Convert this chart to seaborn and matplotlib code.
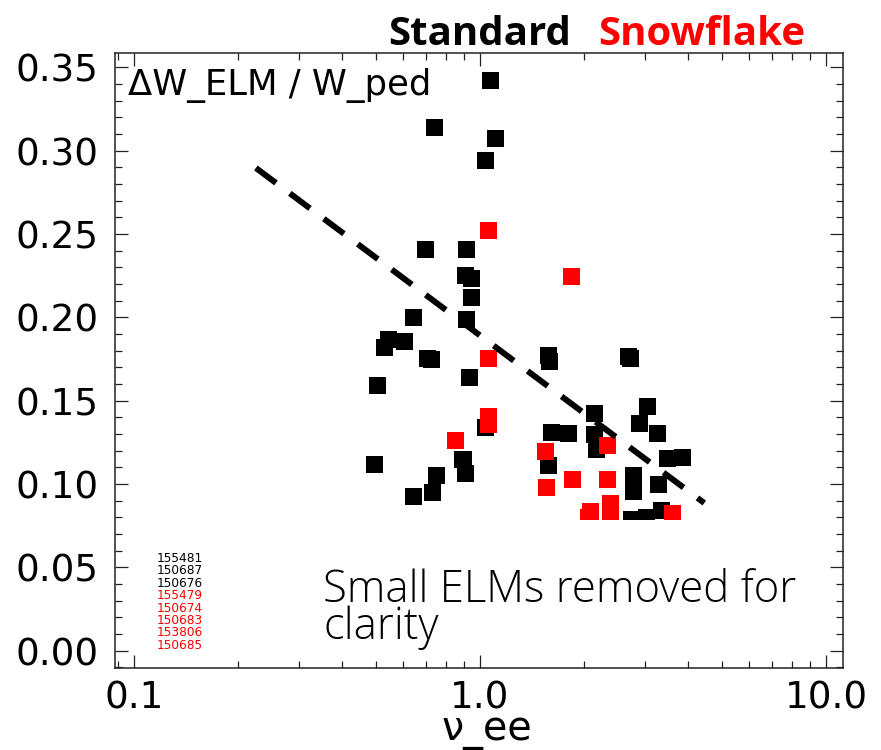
import numpy as np
import pandas as pd
import seaborn as sns
import matplotlib
matplotlib.use("Agg")
import matplotlib.pyplot as plt
from matplotlib.patches import Rectangle
from matplotlib.ticker import FixedLocator, MultipleLocator, NullFormatter, LogLocator

# ---------------- data ----------------
std_x = [1.069, 0.737, 1.105, 1.034, 0.694, 0.917, 0.905, 0.942, 0.942, 0.641,
         0.917, 0.543, 0.529, 0.604, 0.705, 0.722, 0.930, 0.505, 1.034, 0.495,
         0.893, 0.905, 0.747, 0.727, 0.641, 1.575, 1.585, 2.690, 2.722, 2.145,
         3.049, 2.891, 3.258, 1.613, 1.805, 2.145, 2.174, 1.580, 2.778, 2.778,
         3.481, 3.846, 3.281, 3.346, 3.029, 2.742]
std_y = [0.3418, 0.3136, 0.3070, 0.2938, 0.2409, 0.2409, 0.2253, 0.2235, 0.2121, 0.2001,
         0.1989, 0.1869, 0.1821, 0.1857, 0.1755, 0.1749, 0.1641, 0.1593, 0.1341, 0.1119,
         0.1149, 0.1065, 0.1053, 0.0951, 0.0927, 0.1770, 0.1737, 0.1767, 0.1752, 0.1425,
         0.1467, 0.1365, 0.1305, 0.1311, 0.1305, 0.1299, 0.1209, 0.1113, 0.1053, 0.0957,
         0.1155, 0.1161, 0.0999, 0.0843, 0.0801, 0.0789]

snow_x = [1.061, 1.841, 1.055, 1.055, 1.055, 0.847, 2.338, 1.550, 1.560, 1.854,
          2.338, 2.385, 2.385, 2.088, 2.061, 3.600]
snow_y = [0.2523, 0.2247, 0.1755, 0.1407, 0.1359, 0.1263, 0.1233, 0.1197, 0.0981, 0.1029,
          0.1029, 0.0885, 0.0831, 0.0837, 0.0801, 0.0825]

fit_x = [0.225, 4.45]
fit_y = [0.2896, 0.0885]

std_shots = ["155481", "150687", "150676"]
snow_shots = ["155479", "150674", "150683", "153806", "150685"]

x_ticks = [0.1, 1.0, 10.0]
x_ticklabels = ["0.1", "1.0", "10.0"]
y_ticks = [0.00, 0.05, 0.10, 0.15, 0.20, 0.25, 0.30, 0.35]
y_ticklabels = ["0.00", "0.05", "0.10", "0.15", "0.20", "0.25", "0.30", "0.35"]

clip_floor = 0.0783  # small ELMs removed below this level

# ---------------- figure ----------------
sns.set_style("ticks")
plt.rcParams['font.family'] = ['DejaVu Sans']
plt.rcParams['axes.linewidth'] = 1.1
for k in ("text.color", "axes.labelcolor", "xtick.color", "ytick.color",
          "xtick.labelcolor", "ytick.labelcolor", "axes.edgecolor"):
    plt.rcParams[k] = "black"

W, H = 881, 750
fig = plt.figure(figsize=(W / 100, H / 100), dpi=100)
ax = fig.add_axes([115 / W, 1 - 668 / H, (843 - 115) / W, (668 - 53) / H])

df = pd.DataFrame({
    "nu": std_x + snow_x,
    "dW": std_y + snow_y,
    "grp": ["Standard"] * len(std_x) + ["Snowflake"] * len(snow_x),
})
sns.scatterplot(data=df, x="nu", y="dW", hue="grp",
                palette={"Standard": "#000000", "Snowflake": "#ff0000"},
                marker="s", s=150, linewidth=0, legend=False, ax=ax, zorder=2)

sns.lineplot(x=fit_x, y=fit_y, color="black", linewidth=4.3,
             linestyle=(0, (4.2, 2.9)), ax=ax, zorder=3, estimator=None, sort=False)

ax.set_xscale("log")
ax.set_xlim(0.0881, 11.2)
ax.set_ylim(-0.0105, 0.3586)

clip = Rectangle((0.001, clip_floor), 1000, 1.0, transform=ax.transData)
for coll in ax.collections:
    coll.set_clip_path(clip)

ax.xaxis.set_major_locator(FixedLocator(x_ticks))
ax.set_xticklabels(x_ticklabels)
ax.xaxis.set_minor_locator(LogLocator(base=10, subs=np.arange(2, 10)))
ax.xaxis.set_minor_formatter(NullFormatter())
ax.yaxis.set_major_locator(FixedLocator(y_ticks))
ax.set_yticklabels(y_ticklabels)
ax.yaxis.set_minor_locator(MultipleLocator(0.01))

ax.tick_params(which="major", direction="in", length=9.4, width=0.9,
               top=True, right=True, labelsize=26.8, pad=12, color="#222222",
               labelcolor="black")
ax.tick_params(axis="x", which="major", pad=8.5)
ax.tick_params(which="minor", direction="in", length=5, width=0.9,
               top=True, right=True, color="#222222")
for sp in ax.spines.values():
    sp.set_visible(True)
    sp.set_color("#222222")

ax.set_xlabel("ν_ee", fontsize=28.5, color="black")
ax.xaxis.label.set_va("baseline")
ax.xaxis.set_label_coords((487 - 115) / (843 - 115), (668 - 740) / (668 - 53))
ax.set_ylabel("")

# ---------------- texts ----------------
fig.text(388 / W, 1 - 45 / H, "Standard", fontsize=29, fontweight="bold",
         family=["Open Sans", "DejaVu Sans"], color="black", va="baseline", ha="left")
fig.text(598 / W, 1 - 45 / H, "Snowflake", fontsize=29, fontweight="bold",
         family=["Open Sans", "DejaVu Sans"], color="#ff0000", va="baseline", ha="left")

fig.text(128 / W, 1 - 95 / H, "ΔW_ELM / W_ped", fontsize=25.5, va="baseline", ha="left",
         color="black")

fig.text(323 / W, 1 - 639 / H, "Small ELMs removed for\nclarity", fontsize=31.5,
         fontweight="light", linespacing=0.78,
         family=["Open Sans", "DejaVu Sans"], va="baseline", ha="left", color="black")

shots = std_shots + snow_shots
colors = ["black"] * len(std_shots) + ["#ff0000"] * len(snow_shots)
for i, (s, c) in enumerate(zip(shots, colors)):
    fig.text(157 / W, 1 - (562 + i * 12.4) / H, s, fontsize=8.7, color=c,
             va="baseline", ha="left")

fig.savefig("out.png", dpi=100)
